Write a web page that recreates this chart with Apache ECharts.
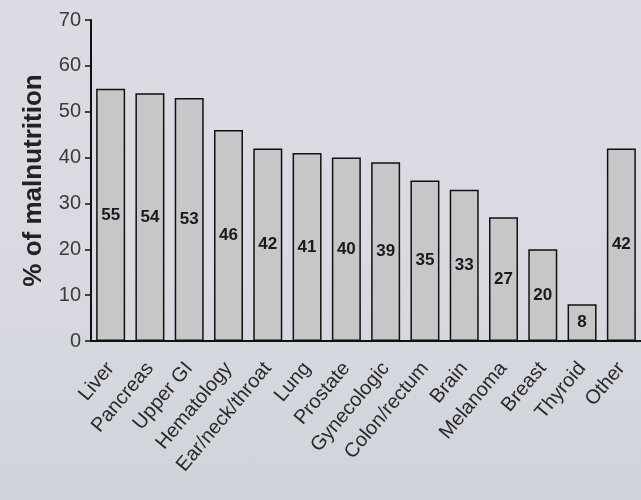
<!DOCTYPE html>
<html>
<head>
<meta charset="utf-8">
<script src="https://cdn.jsdelivr.net/npm/echarts@6/dist/echarts.min.js"></script>
<style>
  html, body { margin: 0; padding: 0; }
  #chart { width: 641px; height: 500px;
    background: linear-gradient(180deg, #dddce4 0%, #d9d9e1 55%, #cfd5da 100%); }
</style>
</head>
<body>
<div id="chart"></div>
<script>
// Malnutrition prevalence by tumour site
const sites = ['Liver', 'Pancreas', 'Upper GI', 'Hematology', 'Ear/neck/throat', 'Lung',
  'Prostate', 'Gynecologic', 'Colon/rectum', 'Brain', 'Melanoma', 'Breast', 'Thyroid', 'Other'];
const malnutritionPct = [55, 54, 53, 46, 42, 41, 40, 39, 35, 33, 27, 20, 8, 42];
const yTicks = [0, 10, 20, 30, 40, 50, 60, 70];

const chart = echarts.init(document.getElementById('chart'), null, { renderer: 'canvas' });
const font = 'Liberation Sans, Arial, sans-serif';

chart.setOption({
  backgroundColor: 'transparent',
  animation: false,
  grid: { left: 91, right: 0, top: 20, bottom: 159, containLabel: false },
  xAxis: {
    type: 'category',
    data: sites,
    axisLine: { lineStyle: { color: '#111', width: 2 } },
    axisTick: { show: false },
    axisLabel: {
      interval: 0, rotate: 50, fontSize: 20, color: '#2a2a2a', fontFamily: font, margin: 24
    }
  },
  yAxis: {
    type: 'value',
    min: yTicks[0], max: yTicks[yTicks.length - 1], interval: 10,
    name: '% of malnutrition',
    nameLocation: 'middle', nameRotate: 90, nameGap: 44,
    nameTextStyle: { fontSize: 26, fontWeight: 'bold', color: '#222', fontFamily: font },
    axisLine: { show: true, lineStyle: { color: '#111', width: 2 } },
    axisTick: { show: true, length: 6, lineStyle: { color: '#111', width: 1.5 } },
    axisLabel: { fontSize: 20, color: '#3a3a3a', fontFamily: font, margin: 10 },
    splitLine: { show: false }
  },
  series: [{
    type: 'bar',
    data: malnutritionPct,
    barWidth: 29,
    itemStyle: { color: '#c7c7ca', borderColor: '#111', borderWidth: 1.5 },
    label: {
      show: true, position: 'inside', fontSize: 17, fontWeight: 'bold',
      color: '#1a1a1a', fontFamily: font
    }
  }]
});
</script>
</body>
</html>
